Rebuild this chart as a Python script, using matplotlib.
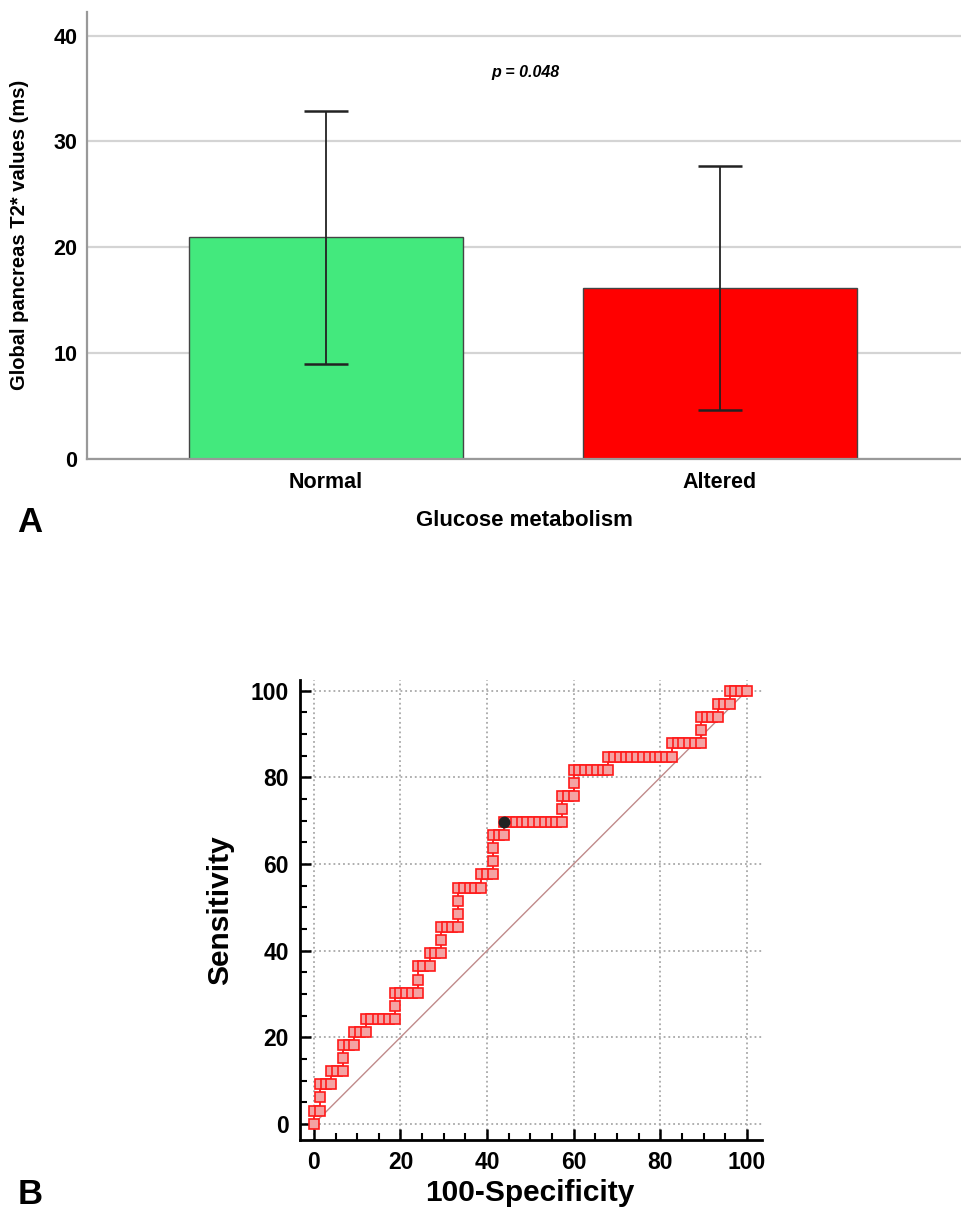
import numpy as np
import matplotlib
matplotlib.use("Agg")
import matplotlib.pyplot as plt
from matplotlib.ticker import MultipleLocator

plt.rcParams['font.family'] = ['Liberation Sans', 'DejaVu Sans']
plt.rcParams['font.weight'] = 'bold'

# panel A: mean global pancreas T2* by glucose metabolism
groups = ["Normal", "Altered"]
t2_mean = [21.0, 16.2]
t2_low = [9.0, 4.6]
t2_high = [32.9, 27.7]
bar_colors = ["#43e97d", "#ff0000"]
p_text = "p = 0.048"

# panel B: ROC curve points (100-specificity, sensitivity)
roc_fpr = [
    0.0,
    0.0, 1.3,
    1.3,
    1.3, 2.7, 4.0,
    4.0, 5.3, 6.7,
    6.7,
    6.7, 8.0, 9.3,
    9.3, 10.7, 12.0,
    12.0, 13.3, 14.7, 16.0, 17.3, 18.7,
    18.7,
    18.7, 20.0, 21.3, 22.7, 24.0,
    24.0,
    24.0, 25.3, 26.7,
    26.7, 28.0, 29.3,
    29.3,
    29.3, 30.7, 32.0, 33.3,
    33.3,
    33.3,
    33.3, 34.7, 36.0, 37.3, 38.7,
    38.7, 40.0, 41.3,
    41.3,
    41.3,
    41.3, 42.7, 44.0,
    44.0, 45.3, 46.7, 48.0, 49.3, 50.7, 52.0, 53.3, 54.7, 56.0, 57.3,
    57.3,
    57.3, 58.7, 60.0,
    60.0,
    60.0, 61.3, 62.7, 64.0, 65.3, 66.7, 68.0,
    68.0, 69.3, 70.7, 72.0, 73.3, 74.7, 76.0, 77.3, 78.7, 80.0, 81.3, 82.7,
    82.7, 84.0, 85.3, 86.7, 88.0, 89.3,
    89.3,
    89.3, 90.7, 92.0, 93.3,
    93.3, 94.7, 96.0,
    96.0, 97.3, 98.7, 100.0,
]
roc_sens = [
    0.0,
    3.0, 3.0,
    6.1,
    9.1, 9.1, 9.1,
    12.1, 12.1, 12.1,
    15.2,
    18.2, 18.2, 18.2,
    21.2, 21.2, 21.2,
    24.2, 24.2, 24.2, 24.2, 24.2, 24.2,
    27.3,
    30.3, 30.3, 30.3, 30.3, 30.3,
    33.3,
    36.4, 36.4, 36.4,
    39.4, 39.4, 39.4,
    42.4,
    45.5, 45.5, 45.5, 45.5,
    48.5,
    51.5,
    54.5, 54.5, 54.5, 54.5, 54.5,
    57.6, 57.6, 57.6,
    60.6,
    63.6,
    66.7, 66.7, 66.7,
    69.7, 69.7, 69.7, 69.7, 69.7, 69.7, 69.7, 69.7, 69.7, 69.7, 69.7,
    72.7,
    75.8, 75.8, 75.8,
    78.8,
    81.8, 81.8, 81.8, 81.8, 81.8, 81.8, 81.8,
    84.8, 84.8, 84.8, 84.8, 84.8, 84.8, 84.8, 84.8, 84.8, 84.8, 84.8, 84.8,
    87.9, 87.9, 87.9, 87.9, 87.9, 87.9,
    90.9,
    93.9, 93.9, 93.9, 93.9,
    97.0, 97.0, 97.0,
    100.0, 100.0, 100.0, 100.0,
]
cutoff = (44.0, 69.7)

fig = plt.figure(figsize=(9.61, 12.14), dpi=100)

# ---- panel A ----
ax1 = fig.add_axes([0.0905, 0.6219, 0.9095, 0.368])
x = np.arange(len(groups))
ax1.set_axisbelow(True)
ax1.yaxis.grid(True, color="#d4d4d4", linewidth=1.6)
ax1.bar(x, t2_mean, width=0.695, color=bar_colors, edgecolor="#444444", linewidth=1.0, zorder=2)
err = [np.array(t2_mean) - np.array(t2_low), np.array(t2_high) - np.array(t2_mean)]
ax1.errorbar(x, t2_mean, yerr=err, fmt="none", ecolor="#222222", elinewidth=1.3,
             capsize=15.5, capthick=1.8, zorder=3)
ax1.set_xlim(-0.607, 1.612)
ax1.set_ylim(0, 42.2)
ax1.set_yticks([0, 10, 20, 30, 40])
ax1.set_xticks(x)
ax1.set_xticklabels(groups)
ax1.tick_params(axis="both", length=0, labelsize=15.5)
ax1.tick_params(axis="y", pad=7)
ax1.tick_params(axis="x", pad=9)
for side in ["top", "right"]:
    ax1.spines[side].set_visible(False)
for side in ["left", "bottom"]:
    ax1.spines[side].set_color("#999999")
    ax1.spines[side].set_linewidth(1.6)
ax1.text(0.505, 36.5, p_text, ha="center", va="center", fontsize=11.5,
         fontstyle="italic", fontweight="bold")

fig.text(20 / 961, 1 - 235 / 1214, "Global pancreas T2* values (ms)", rotation=90,
         ha="center", va="center", fontsize=14.5, fontweight="bold")
fig.text(524 / 961, 1 - 521 / 1214, "Glucose metabolism", ha="center", va="center",
         fontsize=16, fontweight="bold")
fig.text(30 / 961, 1 - 522 / 1214, "A", ha="center", va="center", fontsize=25, fontweight="bold")

# ---- panel B ----
ax2 = fig.add_axes([0.3122, 0.061, 0.4808, 0.379])
ax2.set_xlim(-3.2, 103.5)
ax2.set_ylim(-3.7, 102.5)
ax2.xaxis.set_major_locator(MultipleLocator(20))
ax2.yaxis.set_major_locator(MultipleLocator(20))
ax2.xaxis.set_minor_locator(MultipleLocator(5))
ax2.yaxis.set_minor_locator(MultipleLocator(5))
ax2.grid(True, which="major", color="#a8a8a8", linestyle=":", linewidth=1.3)
ax2.set_axisbelow(True)
ax2.plot([0, 100], [0, 100], color="#c08a8a", linewidth=1.0, zorder=2)
ax2.plot(roc_fpr, roc_sens, color="#ff1a1a", linewidth=1.3, marker="s", markersize=7,
         markerfacecolor="#f4a3a3", markeredgecolor="#ff1a1a", markeredgewidth=1.2, zorder=3)
ax2.plot([cutoff[0]], [cutoff[1]], marker="o", markersize=7.5, color="#222222", zorder=4)
for side in ["top", "right"]:
    ax2.spines[side].set_visible(False)
for side in ["left", "bottom"]:
    ax2.spines[side].set_linewidth(2.0)
ax2.tick_params(which="major", direction="in", length=8, width=1.8, labelsize=16.5, pad=8)
ax2.tick_params(which="minor", direction="in", length=5, width=1.5)
ax2.set_ylabel("Sensitivity", fontsize=21.5, fontweight="bold", labelpad=12)
fig.text(530 / 961, 1 - 1193 / 1214, "100-Specificity", ha="center", va="center",
         fontsize=21.5, fontweight="bold")
fig.text(30 / 961, 1 - 1195 / 1214, "B", ha="center", va="center", fontsize=25, fontweight="bold")

fig.savefig("out.png", dpi=100)
